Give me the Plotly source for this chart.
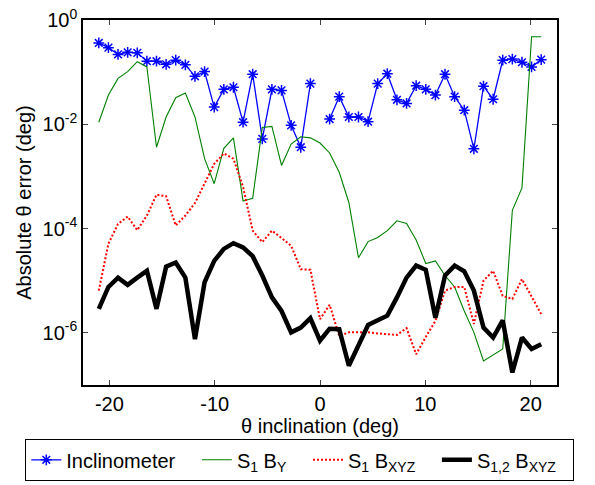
import numpy as np
import plotly.graph_objects as go

# inclination angles (deg)
theta = np.linspace(-21, 21, 47)

# log10 of absolute theta error (deg)
incl_log = [-0.44, -0.53, -0.66, -0.62, -0.63, -0.79, -0.79, -0.85, -0.77, -0.86,
            -1.08, -0.99, -1.67, -1.33, -1.29, -1.96, -1.04, -2.28, -1.33, -1.35,
            -2.02, -2.44, -1.22, None, -1.90, -1.47, -1.86, -1.86, -1.95, -1.22,
            -1.03, -1.53, -1.60, -1.26, -1.33, -1.44, -1.04, -1.47, -1.73, -2.47,
            -1.27, -1.52, -0.77, -0.75, -0.81, -0.90, -0.76]
s1by_log = [-1.96, -1.44, -1.12, -0.99, -0.80, -0.90, -2.44, -1.86, -1.49, -1.40,
            -1.86, -2.66, -3.14, -2.46, -2.26, -3.47, -3.42, -2.06, -2.04, -2.79,
            -2.38, -2.24, -2.26, -2.36, -2.55, -2.92, -3.50, -4.56, -4.25, -4.17,
            -4.04, -3.85, -3.90, -4.22, -4.67, -4.62, -4.90, -5.12, -5.58, -5.99,
            -6.54, -6.42, -6.31, -3.65, -3.22, -0.32, -0.32]
s1bxyz_log = [-5.19, -4.29, -3.91, -3.77, -4.03, -3.75, -3.35, -3.38, -3.94, -3.75,
              -3.51, -3.13, -2.76, -2.56, -2.66, -3.20, -4.04, -4.26, -4.04, -4.18,
              -4.33, -4.78, -4.79, -5.74, -5.46, -6.06, -5.99, -5.99, -5.99, -6.01,
              -6.03, -6.04, -5.91, -6.41, -6.08, -5.77, -5.19, -5.12, -5.12, -5.83,
              -5.00, -4.81, -5.29, -5.35, -4.97, -5.32, -5.64]
s12bxyz_log = [-5.54, -5.12, -4.94, -5.08, -4.94, -4.81, -5.54, -4.73, -4.65, -4.94,
               -6.12, -5.03, -4.62, -4.39, -4.28, -4.36, -4.53, -4.90, -5.32, -5.58,
               -5.99, -5.90, -5.72, -6.15, -5.92, -5.93, -6.63, -6.22, -5.85, -5.76,
               -5.67, -5.32, -4.94, -4.71, -4.79, -5.71, -4.90, -4.71, -4.82, -5.19,
               -5.90, -6.09, -5.76, -6.76, -6.09, -6.31, -6.22]

x_ticks = [-20, -10, 0, 10, 20]
x_ticktext = ["-20", "-10", "0", "10", "20"]
y_ticks = [1, 1e-2, 1e-4, 1e-6]
y_ticktext = ["10<sup>0</sup>", "10<sup>-2</sup>", "10<sup>-4</sup>", "10<sup>-6</sup>"]

NB = "\u00a0"
names = ["Inclinometer" + NB * 3,
         "S<sub>1</sub> B<sub>Y</sub>" + NB * 3,
         "S<sub>1</sub> B<sub>XYZ</sub>" + NB * 3,
         "S<sub>1,2</sub> B<sub>XYZ</sub>" + NB * 2]


def lin(v):
    return [None if a is None else 10 ** a for a in v]


FONT = "Arial, 'Liberation Sans', sans-serif"
FS = 20

fig = go.Figure()
fig.add_trace(go.Scatter(x=theta, y=lin(incl_log), mode="lines+markers",
                         name=names[0],
                         line=dict(color="#0000FF", width=1.3),
                         marker=dict(symbol="asterisk-open", size=9,
                                     line=dict(color="#0000FF", width=1.5)),
                         connectgaps=False))
fig.add_trace(go.Scatter(x=theta, y=lin(s1by_log), mode="lines",
                         name=names[1],
                         line=dict(color="#008000", width=1.1)))
fig.add_trace(go.Scatter(x=theta, y=lin(s1bxyz_log), mode="lines",
                         name=names[2],
                         line=dict(color="#FF0000", width=2, dash="2px,2px")))
fig.add_trace(go.Scatter(x=theta, y=lin(s12bxyz_log), mode="lines",
                         name=names[3],
                         line=dict(color="#000000", width=4.5)))

fig.update_layout(
    width=595, height=485,
    margin=dict(l=83, r=38, t=20, b=100, autoexpand=False),
    paper_bgcolor="white", plot_bgcolor="white",
    font=dict(family=FONT, size=FS, color="black"),
    showlegend=True,
    legend=dict(orientation="h", x=(25 - 83) / 474, xanchor="left",
                y=(385 - 439) / 365, yanchor="top",
                bordercolor="black", borderwidth=1.3, bgcolor="white",
                font=dict(family=FONT, size=FS), tracegroupgap=0, itemwidth=30),
)
fig.update_xaxes(range=[-22.5, 22.5], tickvals=x_ticks, ticktext=x_ticktext,
                 ticks="inside", ticklen=5, automargin=False,
                 showline=True, linecolor="black", linewidth=1.5, mirror="ticks",
                 showgrid=False, zeroline=False,
                 title=dict(text="θ inclination (deg)", standoff=3, font=dict(size=FS)),
                 tickfont=dict(size=FS))
fig.update_yaxes(type="log", range=[-7, 0], tickvals=y_ticks, ticktext=y_ticktext,
                 ticks="inside", ticklen=5, showline=True, linecolor="black",
                 linewidth=1.5, mirror="ticks", showgrid=False, zeroline=False,
                 automargin=False,
                 title=dict(text="Absolute θ error (deg)", standoff=6, font=dict(size=FS)),
                 tickfont=dict(size=FS))

fig.write_html("out.html")
